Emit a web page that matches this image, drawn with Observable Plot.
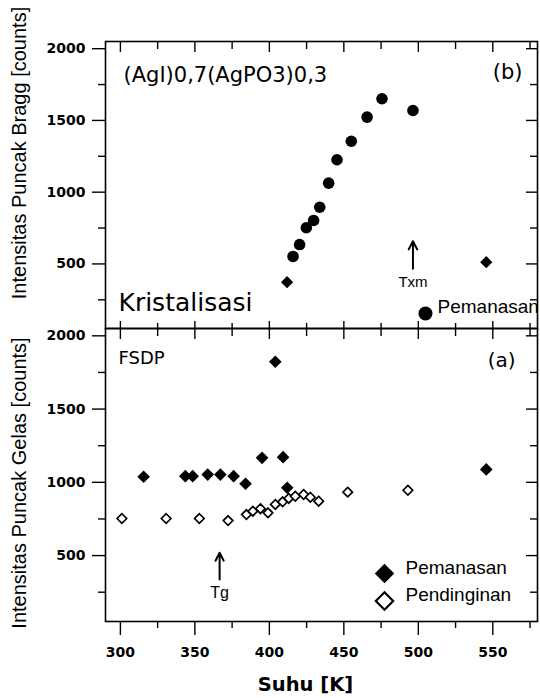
<!DOCTYPE html>
<html>
<head>
<meta charset="utf-8">
<script src="https://cdn.jsdelivr.net/npm/d3@7"></script>
<script src="https://cdn.jsdelivr.net/npm/@observablehq/plot@0.6"></script>
<style>
html, body { margin: 0; padding: 0; background: #fff; }
#chart { position: relative; width: 540px; height: 698px; background: #fff; }
#chart svg { position: absolute; left: 0; }
</style>
</head>
<body>
<div id="chart"></div>
<script>
// ---- Panel (b): Bragg peak intensity (heating) ----
const braggTemp   = [415.9, 420.3, 424.8, 429.7, 433.8, 439.8, 445.4, 455.0, 465.6, 475.6, 496.4];
const braggCounts = [552, 635, 752, 803, 895, 1063, 1226, 1355, 1523, 1651, 1569];
const braggDiamondTemp   = [411.9, 545.6];
const braggDiamondCounts = [373, 512];

// ---- Panel (a): FSDP (glass peak) ----
const heatTemp   = [315.6, 343.6, 348.5, 358.6, 367.1, 376.0, 384.0, 395.1, 404.0, 409.2, 412.0, 545.6];
const heatCounts = [1038, 1042, 1042, 1053, 1053, 1042, 990, 1167, 1823, 1172, 963, 1088];
const coolTemp   = [301.0, 330.7, 353.0, 372.3, 384.6, 388.9, 394.0, 399.1, 404.0, 408.9, 413.0, 417.4, 423.0, 427.5, 433.1, 452.6, 493.0];
const coolCounts = [753, 753, 753, 739, 780, 803, 820, 792, 849, 867, 890, 905, 917, 898, 871, 933, 946];

// ---- Axes ----
const xDomain = [290, 580];
const yDomain = [50, 2050];
const xMajorTicks = [300, 350, 400, 450, 500, 550];
const xMinorTicks = [325, 375, 425, 475, 525, 575];
const yMajorTicks = [500, 1000, 1500, 2000];
const yMinorTicks = [250, 750, 1250, 1750];

// ---- Annotations ----
const tgTemp = [366.6];
const tgArrowCounts = [337, 519];
const txmTemp = [496.4];
const txmArrowCounts = [466, 658];
const legendLabels = ["Pemanasan", "Pendinginan"];

const blank = () => "";
const plain = d => String(d);
const tickFont = {fontFamily: "DejaVu Sans", fontWeight: "bold", fontSize: 14, tickFormat: plain};
const sw = 1.4;

function axes(bottomLabels) {
  const m = [
    Plot.axisY(yMajorTicks, {anchor: "left", tickSize: 13, tickPadding: 7, label: null, strokeWidth: sw, ...tickFont}),
    Plot.axisY(yMinorTicks, {anchor: "left", tickSize: 7, tickFormat: blank, label: null, strokeWidth: sw}),
    Plot.axisY(yMajorTicks, {anchor: "right", tickSize: -12, tickFormat: blank, label: null, strokeWidth: sw}),
    Plot.axisY(yMinorTicks, {anchor: "right", tickSize: -8, tickFormat: blank, label: null, strokeWidth: sw}),
    Plot.axisX(xMajorTicks, {anchor: "top", tickSize: -10, tickFormat: blank, label: null, strokeWidth: sw}),
    Plot.axisX(xMinorTicks, {anchor: "top", tickSize: -7, tickFormat: blank, label: null, strokeWidth: sw})
  ];
  if (bottomLabels) {
    m.push(
      Plot.axisX(xMajorTicks, {anchor: "bottom", tickSize: 14, tickPadding: 12, label: null, strokeWidth: sw, ...tickFont}),
      Plot.axisX(xMinorTicks, {anchor: "bottom", tickSize: 7, tickFormat: blank, label: null, strokeWidth: sw})
    );
  } else {
    m.push(
      Plot.axisX(xMajorTicks, {anchor: "bottom", tickSize: -7, tickFormat: blank, label: null, strokeWidth: sw}),
      Plot.axisX(xMinorTicks, {anchor: "bottom", tickSize: -5, tickFormat: blank, label: null, strokeWidth: sw})
    );
  }
  return m;
}

const id = d => d;

const topPlot = Plot.plot({
  width: 540, height: 329,
  marginLeft: 105, marginRight: 3, marginTop: 41, marginBottom: 1,
  x: {domain: xDomain},
  y: {domain: yDomain},
  style: {background: "transparent", color: "black", overflow: "visible"},
  marks: [
    ...axes(false),
    Plot.frame({stroke: "black", strokeWidth: 1.6}),
    Plot.dot(braggDiamondTemp, {x: braggDiamondTemp, y: braggDiamondCounts, symbol: "diamond2", r: 5.5, fill: "black", stroke: "none"}),
    Plot.dot(braggTemp, {x: braggTemp, y: braggCounts, r: 5.8, fill: "black", stroke: "none"}),
    Plot.arrow(txmTemp, {x1: txmTemp, x2: txmTemp, y1: [txmArrowCounts[0]], y2: [txmArrowCounts[1]], stroke: "black", strokeWidth: 2, headLength: 9, headAngle: 55}),
    Plot.text(["Txm"], {x: txmTemp, y: [txmArrowCounts[0]], text: id, lineAnchor: "top", dy: 8, fontFamily: "Liberation Sans", fontSize: 15, fill: "black"}),
    Plot.text(["(AgI)0,7(AgPO3)0,3"], {text: id, frameAnchor: "top-left", textAnchor: "start", lineAnchor: "top", dx: 18, dy: 26, fontFamily: "DejaVu Sans", fontSize: 21, fill: "black"}),
    Plot.text(["(b)"], {text: id, frameAnchor: "top-right", textAnchor: "end", lineAnchor: "top", dx: -15, dy: 23, fontFamily: "DejaVu Sans", fontSize: 21, fill: "black"}),
    Plot.text(["Kristalisasi"], {text: id, frameAnchor: "bottom-left", textAnchor: "start", lineAnchor: "top", dx: 13, dy: -35, fontFamily: "DejaVu Sans", fontSize: 25, fill: "black"}),
    Plot.dot([legendLabels[0]], {x: null, y: null, frameAnchor: "bottom-right", dx: -112, dy: -15, r: 7, fill: "black", stroke: "none"}),
    Plot.text([legendLabels[0]], {text: id, frameAnchor: "bottom-right", textAnchor: "start", dx: -100, dy: -16, fontFamily: "Liberation Sans", fontSize: 19, fill: "black"}),
    Plot.text(["Intensitas Puncak Bragg [counts]"], {text: id, frameAnchor: "left", textAnchor: "middle", rotate: -90, dx: -86, dy: -32, fontFamily: "Liberation Sans", fontSize: 20, fill: "black"})
  ]
});

const bottomPlot = Plot.plot({
  width: 540, height: 371,
  marginLeft: 105, marginRight: 3, marginTop: 1, marginBottom: 77,
  x: {domain: xDomain},
  y: {domain: yDomain},
  style: {background: "transparent", color: "black", overflow: "visible"},
  marks: [
    ...axes(true),
    Plot.frame({stroke: "black", strokeWidth: 1.6}),
    Plot.dot(heatTemp, {x: heatTemp, y: heatCounts, symbol: "diamond2", r: 5.7, fill: "black", stroke: "none"}),
    Plot.dot(coolTemp, {x: coolTemp, y: coolCounts, symbol: "diamond2", r: 4.3, fill: "white", stroke: "black", strokeWidth: 1.7}),
    Plot.arrow(tgTemp, {x1: tgTemp, x2: tgTemp, y1: [tgArrowCounts[0]], y2: [tgArrowCounts[1]], stroke: "black", strokeWidth: 2, headLength: 9, headAngle: 55}),
    Plot.text(["Tg"], {x: tgTemp, y: [tgArrowCounts[0]], text: id, lineAnchor: "top", dy: 7, fontFamily: "Liberation Sans", fontSize: 16, fill: "black"}),
    Plot.text(["FSDP"], {text: id, frameAnchor: "top-left", textAnchor: "start", lineAnchor: "top", dx: 13, dy: 23, fontFamily: "DejaVu Sans", fontSize: 18, fill: "black"}),
    Plot.text(["(a)"], {text: id, frameAnchor: "top-right", textAnchor: "end", lineAnchor: "top", dx: -22, dy: 24, fontFamily: "DejaVu Sans", fontSize: 20, fill: "black"}),
    Plot.dot([legendLabels[0]], {x: null, y: null, frameAnchor: "bottom-right", symbol: "diamond2", dx: -153, dy: -48, r: 8.8, fill: "black", stroke: "none"}),
    Plot.dot([legendLabels[1]], {x: null, y: null, frameAnchor: "bottom-right", symbol: "diamond2", dx: -153, dy: -20.5, r: 7.8, fill: "white", stroke: "black", strokeWidth: 2.2}),
    Plot.text([legendLabels[0]], {text: id, frameAnchor: "bottom-right", textAnchor: "start", dx: -132, dy: -47.5, fontFamily: "Liberation Sans", fontSize: 19, fill: "black"}),
    Plot.text([legendLabels[1]], {text: id, frameAnchor: "bottom-right", textAnchor: "start", dx: -132, dy: -21, fontFamily: "Liberation Sans", fontSize: 19, fill: "black"}),
    Plot.text(["Intensitas Puncak Gelas [counts]"], {text: id, frameAnchor: "left", textAnchor: "middle", rotate: -90, dx: -86, dy: 8, fontFamily: "Liberation Sans", fontSize: 20, fill: "black"}),
    Plot.text(["Suhu [K]"], {text: id, frameAnchor: "bottom", lineAnchor: "top", dx: -16, dy: 56, fontFamily: "DejaVu Sans", fontWeight: "bold", fontSize: 19.5, fill: "black"})
  ]
});

const chart = document.getElementById("chart");
topPlot.style.top = "0px";
bottomPlot.style.top = "327px";
chart.appendChild(topPlot);
chart.appendChild(bottomPlot);
</script>
</body>
</html>
